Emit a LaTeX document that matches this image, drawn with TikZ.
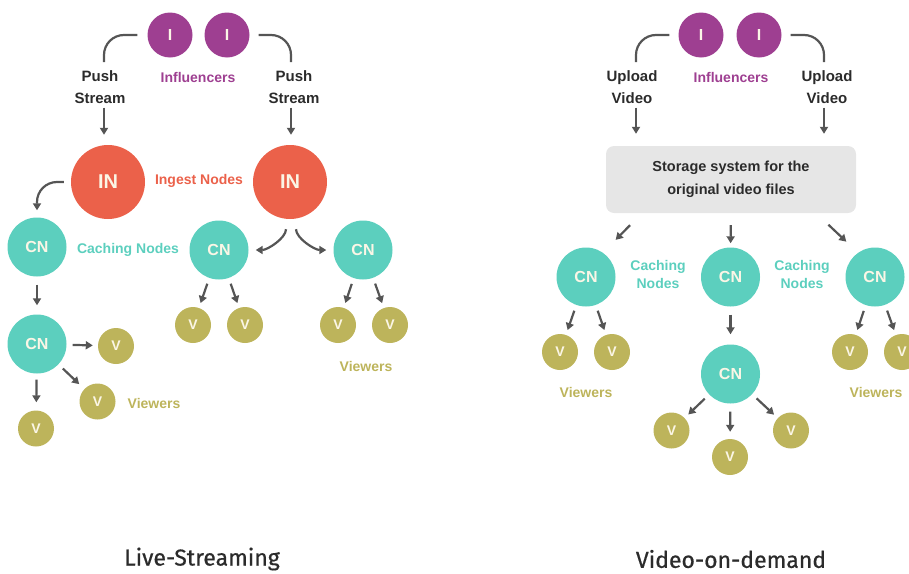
\documentclass[tikz,border=0pt]{standalone}
\usepackage{fontspec}
\setmainfont{Liberation Sans}
\newfontfamily\titlefont[FakeBold=0.6]{Fira Sans}
\usetikzlibrary{arrows.meta}

\definecolor{inflc}{HTML}{9E3F91}
\definecolor{ingc}{HTML}{EB614A}
\definecolor{cachec}{HTML}{5CCFBE}
\definecolor{viewc}{HTML}{BDB45B}
\definecolor{nodetext}{HTML}{FBF6E6}
\definecolor{arrowc}{HTML}{555555}
\definecolor{darktext}{HTML}{2B2B2B}
\definecolor{storec}{HTML}{E6E6E6}

\begin{document}
\begin{tikzpicture}[x=1pt,y=-1pt]
	\tikzset{circ/.style={circle, inner sep=0pt, text=nodetext}}
	\tikzset{infl/.style={circ, fill=inflc, minimum size=45pt, font=\bfseries\fontsize{16}{16}\selectfont}}
	\tikzset{ingest/.style={circ, fill=ingc, minimum size=74pt, font=\bfseries\fontsize{20}{20}\selectfont}}
	\tikzset{cache/.style={circ, fill=cachec, minimum size=59pt, font=\bfseries\fontsize{16}{16}\selectfont}}
	\tikzset{viewer/.style={circ, fill=viewc, minimum size=36pt, font=\bfseries\fontsize{14}{14}\selectfont}}
	\tikzset{lbl/.style={inner sep=1pt, align=center, font=\bfseries\fontsize{14}{18}\selectfont}}
	\tikzset{flowlbl/.style={inner sep=1pt, align=center, text=darktext, font=\bfseries\fontsize{15}{22}\selectfont}}
	\tikzset{link/.style={draw=arrowc, line width=2.2pt, rounded corners=20pt}}
	\tikzset{arr/.style={draw=arrowc, line width=2.2pt, -{Triangle[length=7pt,width=8pt]}, shorten <=7pt, shorten >=7pt}}
	\useasboundingbox (0,0) rectangle (909,573);

	% live-streaming
	\node[infl] (liA) at (170,35) {I};
	\node[infl] (liB) at (227,35) {I};
	\node[lbl, text=inflc] (linfl) at (198,77) {Influencers};
	\node[flowlbl] (lpushA) at (100,87) {Push\\Stream};
	\node[flowlbl] (lpushB) at (294,87) {Push\\Stream};
	\coordinate (lbendA) at (104,62);
	\coordinate (lbendB) at (291,62);
	\draw[link, shorten <=10pt] (liA.west) -| (lbendA);
	\draw[link, shorten <=9pt] (liB.east) -| (lbendB);

	\node[ingest] (linA) at (108,182) {IN};
	\node[ingest] (linB) at (290,182) {IN};
	\node[lbl, text=ingc] (lingest) at (199,181) {Ingest Nodes};
	\draw[arr, shorten <=3pt, shorten >=10pt] (lbendA |- lpushA.south) -- (lbendA |- linA.north);
	\draw[arr, shorten <=3pt, shorten >=10pt] (lbendB |- lpushB.south) -- (lbendB |- linB.north);

	\node[cache] (lcnA) at (37,247) {CN};
	\node[cache] (lcnB) at (219,250) {CN};
	\node[cache] (lcnC) at (363,250) {CN};
	\node[cache] (lcnD) at (37,344) {CN};
	\node[lbl, text=cachec] (lcaching) at (128,250) {Caching Nodes};
	\draw[arr, rounded corners=20pt] (linA.west) -| (lcnA.north);
	\draw[arr, shorten <=10pt] ([xshift=-4pt]linB.south) to[out=-90, in=0] (lcnB.east);
	\draw[arr, shorten <=10pt] ([xshift=6pt]linB.south) to[out=-90, in=180] (lcnC.west);
	\draw[arr, shorten <=8pt, shorten >=9pt] (lcnA) -- (lcnD);

	\node[viewer] (lvA) at (193,325) {V};
	\node[viewer] (lvB) at (245,325) {V};
	\node[viewer] (lvC) at (338,325) {V};
	\node[viewer] (lvD) at (390,325) {V};
	\node[viewer] (lvE) at (116,346) {V};
	\node[viewer] (lvF) at (97.5,401.5) {V};
	\node[viewer] (lvG) at (36,428.5) {V};
	\node[lbl, text=viewc] (lviewA) at (154,403) {Viewers};
	\node[lbl, text=viewc] (lviewB) at (366,366) {Viewers};
	\draw[arr, shorten <=6pt, shorten >=5pt] (lcnB) -- (lvA);
	\draw[arr, shorten <=6pt, shorten >=5pt] (lcnB) -- (lvB);
	\draw[arr, shorten <=6pt, shorten >=5pt] (lcnC) -- (lvC);
	\draw[arr, shorten <=6pt, shorten >=5pt] (lcnC) -- (lvD);
	\draw[arr, shorten <=6pt, shorten >=5pt] (lcnD) -- (lvE);
	\draw[arr, shorten <=6pt, shorten >=7pt] (lcnD) -- (lvF);
	\draw[arr, shorten <=6pt, shorten >=8pt] (lcnD) -- (lvG);

	% video-on-demand
	\node[infl] (riA) at (701,35) {I};
	\node[infl] (riB) at (759,35) {I};
	\node[lbl, text=inflc] (rinfl) at (731,77) {Influencers};
	\node[flowlbl] (rupA) at (632,87) {Upload\\Video};
	\node[flowlbl] (rupB) at (827,87) {Upload\\Video};
	\coordinate (rbendA) at (636,62);
	\coordinate (rbendB) at (824,62);
	\draw[link, shorten <=9pt] (riA.west) -| (rbendA);
	\draw[link, shorten <=9pt] (riB.east) -| (rbendB);

	\node[rounded corners=8pt, fill=storec, minimum width=250pt, minimum height=67pt, align=center,
		text=darktext, font=\bfseries\fontsize{14.5}{23}\selectfont] (store) at (731,179.5)
		{Storage system for the\\original video files};
	\draw[arr, shorten <=3pt, shorten >=12pt] (rbendA |- rupA.south) -- (rbendA |- store.north);
	\draw[arr, shorten <=3pt, shorten >=12pt] (rbendB |- rupB.south) -- (rbendB |- store.north);

	\node[cache] (rcnA) at (586,277) {CN};
	\node[cache] (rcnB) at (730.5,277) {CN};
	\node[cache] (rcnC) at (875,277) {CN};
	\node[cache] (rcnD) at (730.5,374) {CN};
	\node[lbl, text=cachec] (rcachingA) at (658,274) {Caching\\Nodes};
	\node[lbl, text=cachec] (rcachingB) at (802,274) {Caching\\Nodes};
	\coordinate (soutA) at (642,213);
	\coordinate (soutB) at (816,213);
	\draw[arr, shorten <=17pt, shorten >=18pt] (soutA) -- (rcnA.55);
	\draw[arr, shorten <=12pt, shorten >=4pt] (store.south) -- (rcnB.north);
	\draw[arr, shorten <=17pt, shorten >=16pt] (soutB) -- (rcnC.125);
	\draw[arr, shorten <=8pt, shorten >=10pt] (rcnB) -- (rcnD);

	\node[viewer] (rvA) at (560,352) {V};
	\node[viewer] (rvB) at (612,352) {V};
	\node[viewer] (rvC) at (850,352) {V};
	\node[viewer] (rvD) at (902,352) {V};
	\node[viewer] (rvE) at (671.5,430.5) {V};
	\node[viewer] (rvF) at (730,457) {V};
	\node[viewer] (rvG) at (791,430.5) {V};
	\node[lbl, text=viewc] (rviewA) at (586,392) {Viewers};
	\node[lbl, text=viewc] (rviewB) at (876,392) {Viewers};
	\draw[arr, shorten <=6pt, shorten >=5pt] (rcnA) -- (rvA);
	\draw[arr, shorten <=6pt, shorten >=5pt] (rcnA) -- (rvB);
	\draw[arr, shorten <=6pt, shorten >=5pt] (rcnC) -- (rvC);
	\draw[arr, shorten <=6pt, shorten >=5pt] (rcnC) -- (rvD);
	\draw[arr, shorten <=6pt, shorten >=5pt] (rcnD) -- (rvE);
	\draw[arr, shorten <=8pt, shorten >=7pt] (rcnD) -- (rvF);
	\draw[arr, shorten <=6pt, shorten >=5pt] (rcnD) -- (rvG);

	\node[text=darktext, font=\titlefont\fontsize{23}{23}\selectfont] (ltitle) at (202,559) {Live-Streaming};
	\node[text=darktext, font=\titlefont\fontsize{23}{23}\selectfont] (rtitle) at (731,559) {Video-on-demand};
\end{tikzpicture}
\end{document}
